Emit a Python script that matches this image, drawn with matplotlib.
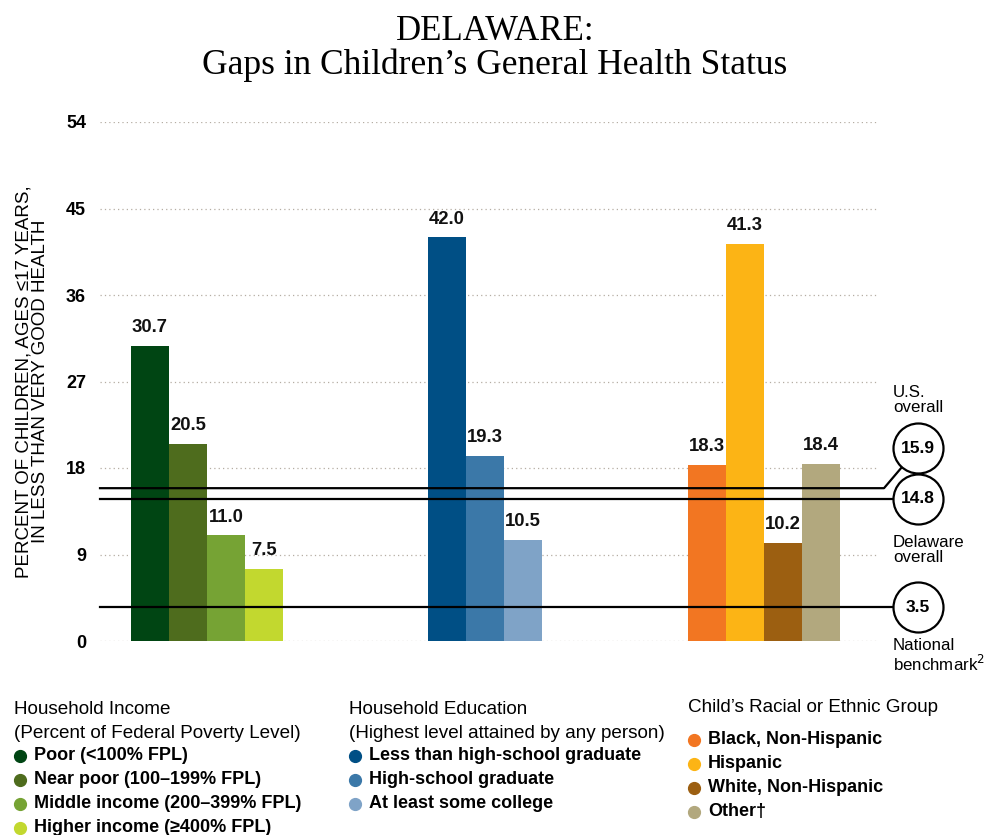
import numpy as np
import matplotlib
matplotlib.use("Agg")
import matplotlib.pyplot as plt
from matplotlib.lines import Line2D

# ---- data
incomeLabels = ["Poor (<100% FPL)", "Near poor (100\u2013199% FPL)",
                "Middle income (200\u2013399% FPL)", "Higher income (\u2265400% FPL)"]
incomeValues = [30.7, 20.5, 11.0, 7.5]
incomeColors = ["#004513", "#4e6c1d", "#76a334", "#c2d82f"]

eduLabels = ["Less than high-school graduate", "High-school graduate", "At least some college"]
eduValues = [42.0, 19.3, 10.5]
eduColors = ["#004f85", "#3b78a8", "#7fa3c7"]

raceLabels = ["Black, Non-Hispanic", "Hispanic", "White, Non-Hispanic", "Other\u2020"]
raceValues = [18.3, 41.3, 10.2, 18.4]
raceColors = ["#f27622", "#fcb415", "#9c5f11", "#b2a87e"]

usOverall = 15.9
stateOverall = 14.8
nationalBenchmark = 3.5

yTicks = [0, 9, 18, 27, 36, 45, 54]

W, H = 984, 835
SANS = ["Liberation Sans", "DejaVu Sans"]
SERIF = ["Liberation Serif", "DejaVu Serif"]


def fx(x):
    return x / W


def fy(y):
    return 1 - y / H


fig = plt.figure(figsize=(W / 100, H / 100), dpi=100)
axLeft, axRight, axTop, axBot = 100, 878, 122, 641
ax = fig.add_axes([fx(axLeft), fy(axBot), (axRight - axLeft) / W, (axBot - axTop) / H])

barW = 38.0  # px per bar; x axis in bar units
xMax = (axRight - axLeft) / barW
groupStarts = [(131 - axLeft) / barW, (428 - axLeft) / barW, (688 - axLeft) / barW]

groups = [(incomeValues, incomeColors), (eduValues, eduColors), (raceValues, raceColors)]
for start, (vals, cols) in zip(groupStarts, groups):
    xs = start + np.arange(len(vals)) + 0.5
    ax.bar(xs, vals, width=1.0, color=cols, zorder=2, linewidth=0)
    for x, v in zip(xs, vals):
        ax.annotate("%.1f" % v, (x, v), xytext=(0, 7), textcoords="offset points",
                    ha="center", va="bottom", fontsize=13.3, fontweight="bold",
                    family=SANS, color="#111111")

ax.set_xlim(0, xMax)
ax.set_ylim(0, 54)
ax.set_yticks(yTicks)
ax.set_yticklabels([str(t) for t in yTicks], fontsize=13, fontweight="bold", family=SANS)
ax.tick_params(axis="y", length=0, pad=10)
ax.set_xticks([])
for s in ax.spines.values():
    s.set_visible(False)
ax.yaxis.grid(True, linestyle=(0, (1, 2.5)), color="#b5ada3", linewidth=0.9, zorder=0)
ax.set_axisbelow(True)

ax.set_ylabel("PERCENT OF CHILDREN, AGES \u226417 YEARS,\nIN LESS THAN VERY GOOD HEALTH",
              fontsize=13.5, family=SANS, labelpad=12, linespacing=1.0)

# ---- reference lines and circles
circX = (918 - axLeft) / barW
lineEnd = (884 - axLeft) / barW
pxPerUnit = (axBot - axTop) / 54.0
usOffset = 40 / pxPerUnit

ax.plot([0, lineEnd, circX], [usOverall, usOverall, usOverall + usOffset],
        color="black", lw=1.6, zorder=4, clip_on=False)
ax.plot([0, circX], [stateOverall, stateOverall], color="black", lw=1.6, zorder=4, clip_on=False)
ax.plot([0, circX], [nationalBenchmark, nationalBenchmark], color="black", lw=1.6, zorder=4,
        clip_on=False)

for val, yc in [(usOverall, usOverall + usOffset), (stateOverall, stateOverall),
                (nationalBenchmark, nationalBenchmark)]:
    ax.plot([circX], [yc], marker="o", markersize=36, mfc="white", mec="black", mew=1.6,
            zorder=5, clip_on=False)
    ax.text(circX, yc, "%.1f" % val, ha="center", va="center", fontsize=12.5,
            fontweight="bold", family=SANS, zorder=6, clip_on=False)

lblX = fx(893)
fig.text(lblX, fy(400), "U.S.\noverall", fontsize=12.2, family=SANS, va="center",
         linespacing=1.0)
fig.text(lblX, fy(550), "Delaware\noverall", fontsize=12.2, family=SANS, va="center",
         linespacing=1.0)
fig.text(lblX, fy(656), "National\nbenchmark$^2$", fontsize=12.2, family=SANS, va="center",
         linespacing=1.0)

# ---- title
fig.text(fx(495), fy(31), "DELAWARE:", ha="center", va="center", fontsize=25, family=SERIF)
fig.text(fx(495), fy(65), "Gaps in Children\u2019s General Health Status", ha="center",
         va="center", fontsize=25.5, family=SERIF)

# ---- legends
def legendBlock(x, headers, headerYs, labels, colors, itemYs):
    for h, yy in zip(headers, headerYs):
        fig.text(fx(x), fy(yy), h, fontsize=13.6, family=SANS, va="center")
    for lab, c, yy in zip(labels, colors, itemYs):
        fig.add_artist(Line2D([fx(x + 6)], [fy(yy)], marker="o", markersize=8.5,
                              color=c, transform=fig.transFigure))
        fig.text(fx(x + 20), fy(yy), lab, fontsize=13, family=SANS, va="center",
                 fontweight="bold")


legendBlock(14, ["Household Income", "(Percent of Federal Poverty Level)"], [709, 733],
            incomeLabels, incomeColors, [756, 780, 804, 828])
legendBlock(349, ["Household Education", "(Highest level attained by any person)"],
            [709, 733], eduLabels, eduColors, [756, 780, 804])
legendBlock(688, ["Child\u2019s Racial or Ethnic Group"], [708],
            raceLabels, raceColors, [740, 764, 788, 812])

fig.savefig("out.png", dpi=100)
